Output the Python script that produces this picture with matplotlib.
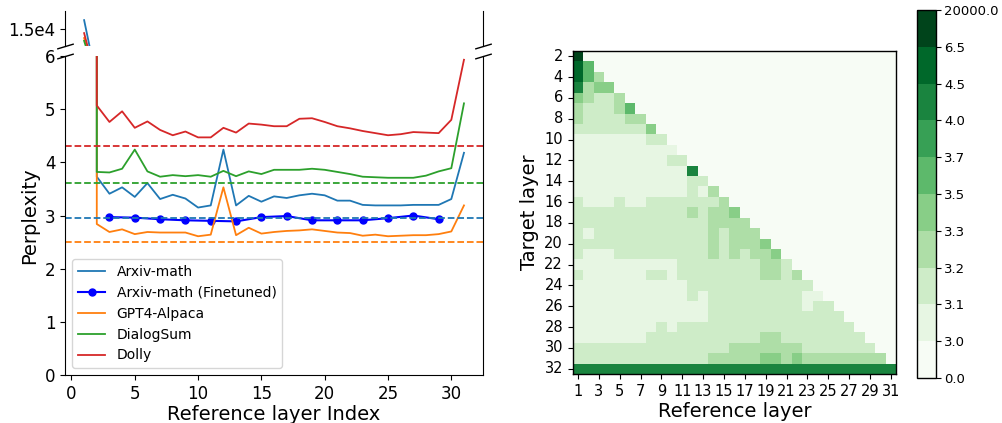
import numpy as np
import pandas as pd
import matplotlib
matplotlib.use("Agg")
import matplotlib.pyplot as plt
from matplotlib.colors import ListedColormap, BoundaryNorm
import seaborn as sns

# ---- left panel data: perplexity per replaced layer
layers = list(range(1, 32))
arxiv = [17400, 3.73, 3.41, 3.53, 3.35, 3.61, 3.31, 3.39, 3.32, 3.15, 3.19, 4.24, 3.19, 3.37, 3.26, 3.36,
         3.33, 3.38, 3.41, 3.38, 3.28, 3.28, 3.20, 3.19, 3.19, 3.19, 3.20, 3.20, 3.20, 3.31, 4.18]
alpaca = [12300, 2.84, 2.69, 2.74, 2.65, 2.69, 2.68, 2.68, 2.68, 2.61, 2.64, 3.53, 2.63, 2.77, 2.66, 2.69,
          2.71, 2.72, 2.74, 2.71, 2.68, 2.67, 2.62, 2.64, 2.61, 2.62, 2.63, 2.63, 2.65, 2.70, 3.19]
dialogsum = [11500, 3.82, 3.81, 3.88, 4.24, 3.83, 3.73, 3.76, 3.74, 3.76, 3.73, 3.84, 3.74, 3.83, 3.78, 3.86,
             3.86, 3.86, 3.88, 3.86, 3.82, 3.78, 3.73, 3.72, 3.71, 3.71, 3.71, 3.75, 3.83, 3.89, 5.11]
dolly = [13700, 5.07, 4.76, 4.96, 4.65, 4.77, 4.61, 4.51, 4.58, 4.47, 4.47, 4.65, 4.56, 4.73, 4.71, 4.68,
         4.68, 4.82, 4.83, 4.76, 4.68, 4.64, 4.59, 4.55, 4.51, 4.53, 4.57, 4.56, 4.55, 4.80, 5.93]
ft_layers = list(range(3, 30, 2))
arxiv_ft = [2.97, 2.96, 2.93, 2.91, 2.90, 2.89, 2.97, 2.99, 2.91, 2.91, 2.91, 2.95, 3.00, 2.93]
base_arxiv, base_alpaca, base_dialog, base_dolly = 2.95, 2.50, 3.61, 4.31

# ---- right panel data: rows = target layer 2..32, values for reference layers 1..t-1
target_layers = list(range(2, 33))
ref_layers = list(range(1, 32))
rows = [
    [15000],
    [5.5, 3.6],
    [5.5, 3.6, 3.25],
    [4.2, 3.25, 3.4, 3.4],
    [3.4, 3.25, 3.15, 3.15, 3.25],
    [3.25, 3.15, 3.15, 3.15, 3.25, 3.6],
    [3.25, 3.15, 3.15, 3.15, 3.15, 3.25, 3.25],
    [3.15, 3.15, 3.15, 3.15, 3.15, 3.15, 3.15, 3.4],
    [3.05, 3.05, 3.05, 3.05, 3.05, 3.05, 3.05, 3.15, 3.15],
    [3.05, 3.05, 3.05, 3.05, 3.05, 3.05, 3.05, 3.05, 3.05, 3.05],
    [3.05, 3.05, 3.05, 3.05, 3.05, 3.05, 3.05, 3.05, 3.05, 3.15, 3.15],
    [3.05, 3.05, 3.05, 3.05, 3.05, 3.05, 3.05, 3.05, 3.05, 3.05, 3.05, 4.2],
    [3.05, 3.05, 3.05, 3.05, 3.05, 3.05, 3.05, 3.05, 3.05, 3.05, 3.05, 3.15, 3.15],
    [3.05, 3.05, 3.05, 3.05, 3.05, 3.05, 3.05, 3.05, 3.05, 3.05, 3.05, 3.15, 3.05, 3.25],
    [3.15, 3.05, 3.05, 3.05, 3.15, 3.05, 3.05, 3.15, 3.15, 3.15, 3.15, 3.15, 3.15, 3.15, 3.25],
    [3.15, 3.15, 3.15, 3.15, 3.15, 3.15, 3.15, 3.15, 3.15, 3.15, 3.15, 3.25, 3.15, 3.25, 3.25, 3.4],
    [3.15, 3.15, 3.15, 3.15, 3.15, 3.15, 3.15, 3.15, 3.15, 3.15, 3.15, 3.15, 3.15, 3.25, 3.25, 3.25, 3.25],
    [3.15, 3.05, 3.15, 3.15, 3.15, 3.15, 3.15, 3.15, 3.15, 3.15, 3.15, 3.15, 3.15, 3.25, 3.15, 3.25, 3.25,
     3.25],
    [3.15, 3.15, 3.15, 3.15, 3.15, 3.15, 3.15, 3.15, 3.15, 3.15, 3.15, 3.15, 3.15, 3.25, 3.15, 3.25, 3.25,
     3.25, 3.4],
    [3.15, 3.05, 3.05, 3.05, 3.15, 3.15, 3.15, 3.15, 3.15, 3.15, 3.15, 3.15, 3.15, 3.25, 3.15, 3.25, 3.15,
     3.25, 3.25, 3.4],
    [3.05, 3.05, 3.05, 3.05, 3.05, 3.05, 3.05, 3.05, 3.05, 3.05, 3.15, 3.15, 3.15, 3.15, 3.15, 3.15, 3.15,
     3.15, 3.25, 3.25, 3.15],
    [3.15, 3.05, 3.05, 3.05, 3.05, 3.05, 3.05, 3.15, 3.15, 3.05, 3.15, 3.15, 3.15, 3.15, 3.15, 3.15, 3.15,
     3.15, 3.25, 3.25, 3.15, 3.25],
    [3.05, 3.05, 3.05, 3.05, 3.05, 3.05, 3.05, 3.05, 3.05, 3.05, 3.05, 3.15, 3.15, 3.15, 3.15, 3.15, 3.15,
     3.15, 3.15, 3.15, 3.15, 3.15, 3.15],
    [3.05, 3.05, 3.05, 3.05, 3.05, 3.05, 3.05, 3.05, 3.05, 3.05, 3.05, 3.15, 3.05, 3.15, 3.15, 3.15, 3.15,
     3.15, 3.15, 3.15, 3.15, 3.15, 3.05, 3.05],
    [3.05, 3.05, 3.05, 3.05, 3.05, 3.05, 3.05, 3.05, 3.05, 3.05, 3.05, 3.05, 3.05, 3.15, 3.15, 3.15, 3.15,
     3.15, 3.15, 3.15, 3.15, 3.15, 3.05, 3.15, 3.15],
    [3.05, 3.05, 3.05, 3.05, 3.05, 3.05, 3.05, 3.05, 3.05, 3.05, 3.05, 3.05, 3.05, 3.15, 3.15, 3.15, 3.15,
     3.15, 3.15, 3.15, 3.15, 3.15, 3.15, 3.15, 3.15, 3.15],
    [3.05, 3.05, 3.05, 3.05, 3.05, 3.05, 3.05, 3.05, 3.15, 3.05, 3.15, 3.15, 3.15, 3.15, 3.15, 3.15, 3.15,
     3.15, 3.15, 3.15, 3.15, 3.15, 3.15, 3.15, 3.15, 3.15, 3.15],
    [3.05, 3.05, 3.05, 3.05, 3.05, 3.05, 3.05, 3.15, 3.15, 3.15, 3.15, 3.15, 3.15, 3.15, 3.15, 3.15, 3.15,
     3.15, 3.25, 3.25, 3.15, 3.15, 3.15, 3.15, 3.15, 3.15, 3.15, 3.15],
    [3.15, 3.15, 3.15, 3.15, 3.15, 3.15, 3.15, 3.15, 3.15, 3.15, 3.15, 3.15, 3.15, 3.15, 3.15, 3.25, 3.25,
     3.25, 3.25, 3.25, 3.25, 3.25, 3.15, 3.15, 3.15, 3.15, 3.15, 3.15, 3.15],
    [3.15, 3.15, 3.15, 3.15, 3.15, 3.15, 3.15, 3.15, 3.15, 3.15, 3.15, 3.15, 3.15, 3.25, 3.25, 3.25, 3.25,
     3.25, 3.4, 3.4, 3.25, 3.4, 3.25, 3.25, 3.25, 3.25, 3.25, 3.25, 3.25, 3.25],
    [4.2] * 31,
]
bounds = [0.0, 3.0, 3.1, 3.2, 3.3, 3.5, 3.7, 4.0, 4.5, 6.5, 20000.0]

mat = np.zeros((len(target_layers), len(ref_layers)))
for i, r in enumerate(rows):
    mat[i, :len(r)] = r
df = pd.DataFrame(mat, index=target_layers, columns=ref_layers)

fig = plt.figure(figsize=(10.02, 4.23), dpi=100)

# ---- broken-axis perplexity plot
ax_top = fig.add_axes([0.065, 0.891, 0.417, 0.083])
ax = fig.add_axes([0.065, 0.1135, 0.417, 0.754], sharex=ax_top)

for a in (ax_top, ax):
    a.plot(layers, arxiv, color='C0', lw=1.3, label='Arxiv-math')
    a.plot(ft_layers, arxiv_ft, color='blue', marker='o', ms=5, lw=1.5, label='Arxiv-math (Finetuned)')
    a.plot(layers, alpaca, color='C1', lw=1.3, label='GPT4-Alpaca')
    a.plot(layers, dialogsum, color='C2', lw=1.3, label='DialogSum')
    a.plot(layers, dolly, color='C3', lw=1.3, label='Dolly')

ax.axhline(base_arxiv, color='C0', ls='--', lw=1.3)
ax.axhline(base_alpaca, color='C1', ls='--', lw=1.3)
ax.axhline(base_dialog, color='C2', ls='--', lw=1.3)
ax.axhline(base_dolly, color='C3', ls='--', lw=1.3)

ax.set_ylim(0, 6)
ax_top.set_ylim(1e4, 2e4)
ax_top.set_yticks([1.5e4])
ax_top.set_yticklabels(['1.5e4'])
ax_top.spines['top'].set_visible(False)
ax_top.spines['bottom'].set_visible(False)
ax.spines['top'].set_visible(False)
ax_top.tick_params(axis='x', which='both', bottom=False, labelbottom=False)
ax_top.tick_params(axis='y', labelsize=12)
ax.tick_params(labelsize=12)

d = 0.3
kw = dict(marker=[(-1, -d), (1, d)], markersize=12, linestyle='none', color='k', mec='k', mew=1, clip_on=False)
ax_top.plot([0, 1], [0, 0], transform=ax_top.transAxes, **kw)
ax.plot([0, 1], [1, 1], transform=ax.transAxes, **kw)

ax.set_xlabel('Reference layer Index', fontsize=14, labelpad=2)
ax.set_ylabel('Perplexity', fontsize=14)
ax.legend(loc='lower left', fontsize=10)

# ---- heatmap
hax = fig.add_axes([0.5716, 0.1158, 0.3227, 0.7636])
cax = fig.add_axes([0.9152, 0.1064, 0.019, 0.870])
cmap = ListedColormap(plt.cm.Greens(np.linspace(0, 1, 10)))
norm = BoundaryNorm(bounds, ncolors=10)
sns.heatmap(df, ax=hax, cbar_ax=cax, cmap=cmap, norm=norm, xticklabels=2, yticklabels=2)
for s in hax.spines.values():
    s.set_visible(True)
    s.set_linewidth(1)
hax.set_xlabel('Reference layer', fontsize=14, labelpad=2)
hax.set_ylabel('Target layer', fontsize=14)
hax.tick_params(labelsize=10.5)
plt.setp(hax.get_yticklabels(), rotation=0)
plt.setp(hax.get_xticklabels(), rotation=0)

cb = hax.collections[0].colorbar
cb.set_ticks(bounds)
cb.set_ticklabels([f'{b:.1f}' for b in bounds])
cb.ax.tick_params(labelsize=9.5, pad=2.5)
cb.outline.set_visible(True)
cb.outline.set_linewidth(1)

fig.savefig('out.png', dpi=100)
